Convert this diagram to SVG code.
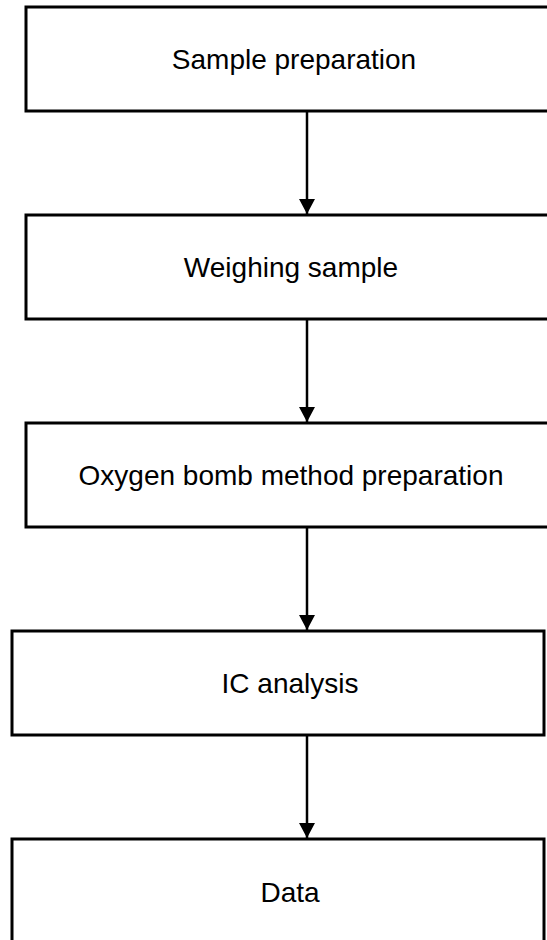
<svg xmlns="http://www.w3.org/2000/svg" width="547" height="940" viewBox="0 0 547 940">
<style>
.box{fill:#fff;stroke:#000;stroke-width:3}
.lbl{font-family:"Liberation Sans",Arial,sans-serif;font-size:28px;fill:#000;text-anchor:middle}
.conn{stroke:#000;stroke-width:2.5;fill:none}
</style>
<defs>
<marker id="ah" viewBox="0 0 15 16" refX="15" refY="8" markerWidth="15" markerHeight="16" markerUnits="userSpaceOnUse" orient="auto">
<path d="M0,0 L15,8 L0,16 Z" fill="#000"/>
</marker>
</defs>
<rect width="547" height="940" fill="#fff"/>
<g id="n1"><rect class="box" x="26" y="7" width="540" height="104"/><text class="lbl" x="294" y="69">Sample preparation</text></g>
<g id="n2"><rect class="box" x="26" y="215" width="540" height="104"/><text class="lbl" x="291" y="277">Weighing sample</text></g>
<g id="n3"><rect class="box" x="26" y="423" width="540" height="104"/><text class="lbl" x="291" y="485">Oxygen bomb method preparation</text></g>
<g id="n4"><rect class="box" x="12" y="631" width="532" height="104"/><text class="lbl" x="290" y="693">IC analysis</text></g>
<g id="n5"><rect class="box" x="12" y="839" width="532" height="110"/><text class="lbl" x="290" y="902">Data</text></g>
<g id="connectors">
<line class="conn" x1="307" y1="111" x2="307" y2="214" marker-end="url(#ah)"/>
<line class="conn" x1="307" y1="319" x2="307" y2="422" marker-end="url(#ah)"/>
<line class="conn" x1="307" y1="527" x2="307" y2="630" marker-end="url(#ah)"/>
<line class="conn" x1="307" y1="735" x2="307" y2="838" marker-end="url(#ah)"/>
</g>
</svg>
